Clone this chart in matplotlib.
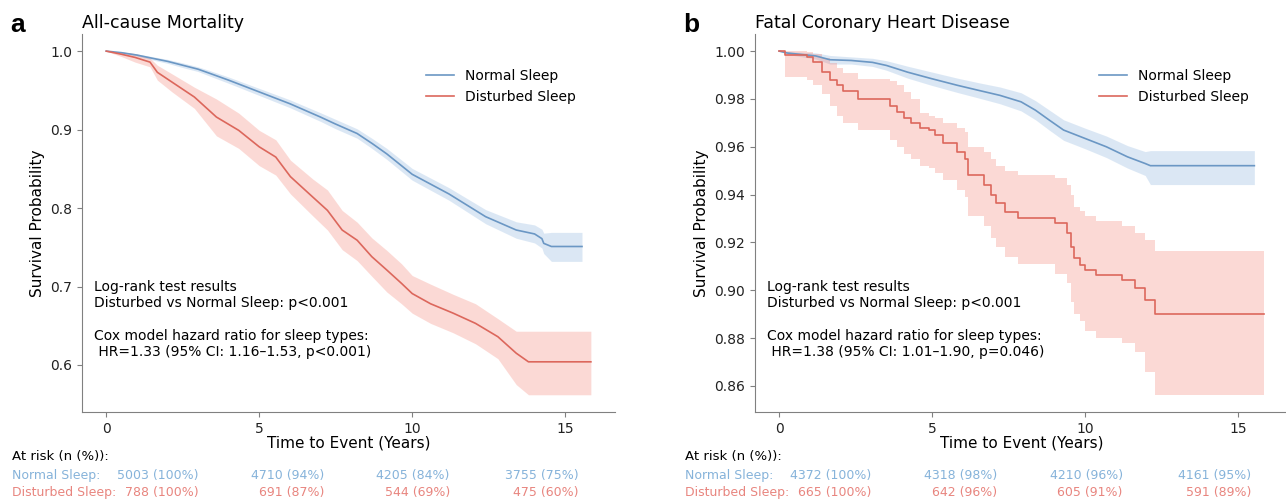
import numpy as np
import matplotlib
matplotlib.use("Agg")
import matplotlib.pyplot as plt

# ---- panel a: all-cause mortality ----
a_norm_t = [0, 0.5, 1.0, 1.43, 2.0, 2.5, 3.0, 3.36, 4.0, 5.0, 6.0, 7.0, 7.47, 8.2, 8.7, 9.17,
            10.0, 11.2, 12.4, 13.4, 14.0, 14.24, 14.3, 14.55, 15.55]
a_norm_s = [1.0, 0.998, 0.995, 0.9915, 0.987, 0.982, 0.977, 0.972, 0.963, 0.948, 0.933, 0.916,
            0.9075, 0.895, 0.882, 0.869, 0.843, 0.818, 0.789, 0.772, 0.767, 0.761, 0.755, 0.751, 0.751]
a_norm_hi = [1.0, 0.999, 0.9965, 0.9935, 0.9895, 0.985, 0.980, 0.9755, 0.967, 0.9525, 0.938, 0.9215,
             0.9135, 0.901, 0.8885, 0.876, 0.8505, 0.826, 0.798, 0.7825, 0.7785, 0.773, 0.768, 0.769, 0.769]
a_norm_lo = [1.0, 0.997, 0.9935, 0.9895, 0.9845, 0.979, 0.974, 0.9685, 0.959, 0.9435, 0.928, 0.9105,
             0.9015, 0.889, 0.8755, 0.862, 0.8355, 0.810, 0.780, 0.7615, 0.7555, 0.749, 0.742, 0.732, 0.732]

a_dist_t = [0, 0.5, 0.94, 1.43, 1.67, 2.15, 2.88, 3.6, 4.33, 5.0, 5.54, 6.02, 6.75, 7.23, 7.71, 8.2,
            8.68, 9.17, 9.65, 10.0, 10.6, 11.34, 12.07, 12.8, 13.4, 13.8, 15.84]
a_dist_s = [1.0, 0.996, 0.992, 0.986, 0.973, 0.9605, 0.9415, 0.916, 0.899, 0.878, 0.865, 0.840, 0.814,
            0.797, 0.772, 0.759, 0.738, 0.721, 0.704, 0.691, 0.678, 0.666, 0.653, 0.636, 0.615, 0.604, 0.604]
a_dist_hi = [1.0, 0.999, 0.997, 0.991, 0.982, 0.971, 0.954, 0.939, 0.921, 0.899, 0.887, 0.861, 0.837,
             0.823, 0.797, 0.782, 0.762, 0.746, 0.729, 0.714, 0.703, 0.690, 0.678, 0.659, 0.643, 0.643, 0.643]
a_dist_lo = [1.0, 0.993, 0.986, 0.980, 0.963, 0.948, 0.927, 0.892, 0.876, 0.854, 0.842, 0.818, 0.790,
             0.772, 0.747, 0.733, 0.713, 0.693, 0.678, 0.666, 0.653, 0.641, 0.627, 0.608, 0.575, 0.562, 0.562]

# ---- panel b: fatal coronary heart disease ----
b_norm_t = [0, 0.27, 1.19, 1.66, 2.35, 3.05, 3.51, 4.2, 4.98, 5.83, 6.52, 7.22, 7.91, 8.38, 8.84, 9.3,
            10.0, 10.7, 11.39, 11.97, 12.14, 15.54]
b_norm_s = [1.0, 0.9992, 0.998, 0.9964, 0.9961, 0.9953, 0.994, 0.9912, 0.9885, 0.9857, 0.9836, 0.9815,
            0.9788, 0.9753, 0.9711, 0.967, 0.9635, 0.96, 0.9558, 0.953, 0.9521, 0.9521]
b_norm_hi = [1.0, 0.9998, 0.9993, 0.9982, 0.9976, 0.997, 0.996, 0.9937, 0.9913, 0.9887, 0.9868, 0.985,
             0.9826, 0.9793, 0.9753, 0.9713, 0.9678, 0.9645, 0.9605, 0.958, 0.9584, 0.9584]
b_norm_lo = [1.0, 0.9986, 0.9967, 0.9946, 0.9946, 0.9936, 0.992, 0.9887, 0.9857, 0.9827, 0.9804, 0.978,
             0.975, 0.9713, 0.9669, 0.9627, 0.9592, 0.9555, 0.9511, 0.948, 0.9442, 0.9442]

b_dist_t = [0, 0.2, 0.9, 1.1, 1.4, 1.66, 1.89, 2.1, 2.58, 3.63, 3.86, 4.09, 4.32, 4.61, 4.9, 5.11, 5.37,
            5.83, 6.08, 6.18, 6.7, 6.93, 7.1, 7.39, 7.8, 9.01, 9.42, 9.54, 9.63, 9.83, 10.0, 10.35,
            11.22, 11.62, 11.97, 12.29, 15.85]
b_dist_s = [1.0, 0.9985, 0.9975, 0.9954, 0.9913, 0.9878, 0.9857, 0.9832, 0.9801, 0.977, 0.9746, 0.9722,
            0.970, 0.968, 0.967, 0.9649, 0.9614, 0.9579, 0.9551, 0.9482, 0.944, 0.9399, 0.9364, 0.9329,
            0.9301, 0.928, 0.9239, 0.9183, 0.9135, 0.9107, 0.9086, 0.9065, 0.9044, 0.901, 0.8961, 0.8899, 0.8899]
b_dist_hi = [1.0, 0.9999, 0.9995, 0.999, 0.997, 0.995, 0.993, 0.991, 0.9885, 0.9875, 0.986, 0.983,
             0.980, 0.974, 0.973, 0.972, 0.970, 0.968, 0.966, 0.960, 0.958, 0.955, 0.952, 0.950,
             0.948, 0.947, 0.944, 0.940, 0.935, 0.933, 0.931, 0.929, 0.927, 0.924, 0.921, 0.9165, 0.9165]
b_dist_lo = [1.0, 0.989, 0.988, 0.986, 0.982, 0.977, 0.973, 0.970, 0.967, 0.963, 0.960, 0.957,
             0.955, 0.952, 0.951, 0.949, 0.946, 0.942, 0.939, 0.931, 0.927, 0.922, 0.918, 0.914,
             0.911, 0.907, 0.903, 0.895, 0.890, 0.887, 0.883, 0.880, 0.878, 0.874, 0.866, 0.8563, 0.8563]

# ---- at-risk table ----
a_risk_norm_n = [5003, 4710, 4205, 3755]
a_risk_norm_pct = [100, 94, 84, 75]
a_risk_dist_n = [788, 691, 544, 475]
a_risk_dist_pct = [100, 87, 69, 60]
b_risk_norm_n = [4372, 4318, 4210, 4161]
b_risk_norm_pct = [100, 98, 96, 95]
b_risk_dist_n = [665, 642, 605, 591]
b_risk_dist_pct = [100, 96, 91, 89]

titles = ["All-cause Mortality", "Fatal Coronary Heart Disease"]
stats_text = [
    "Log-rank test results\nDisturbed vs Normal Sleep: p<0.001\n\n"
    "Cox model hazard ratio for sleep types:\n HR=1.33 (95% CI: 1.16\u20131.53, p<0.001)",
    "Log-rank test results\nDisturbed vs Normal Sleep: p<0.001\n\n"
    "Cox model hazard ratio for sleep types:\n HR=1.38 (95% CI: 1.01\u20131.90, p=0.046)",
]

blue = "#6b97c4"
red = "#dc675c"
blue_fill = "#73a3d7"
red_fill = "#f36a5a"
blue_txt = "#86b3da"
red_txt = "#e8857f"

fig = plt.figure(figsize=(12.86, 5.03), dpi=100)
ax_a = fig.add_axes([0.0638, 0.181, 0.4145, 0.7515])
ax_b = fig.add_axes([0.5871, 0.181, 0.4145, 0.7515])

# panel a
ax_a.fill_between(a_norm_t, a_norm_lo, a_norm_hi, color=blue_fill, alpha=0.25, lw=0)
ax_a.plot(a_norm_t, a_norm_s, color=blue, lw=1.2, label="Normal Sleep")
ax_a.fill_between(a_dist_t, a_dist_lo, a_dist_hi, color=red_fill, alpha=0.25, lw=0)
ax_a.plot(a_dist_t, a_dist_s, color=red, lw=1.2, label="Disturbed Sleep")

# panel b
ax_b.fill_between(b_norm_t, b_norm_lo, b_norm_hi, color=blue_fill, alpha=0.25, lw=0)
ax_b.plot(b_norm_t, b_norm_s, color=blue, lw=1.2, label="Normal Sleep")
ax_b.fill_between(b_dist_t, b_dist_lo, b_dist_hi, step="post", color=red_fill, alpha=0.25, lw=0)
ax_b.plot(b_dist_t, b_dist_s, color=red, lw=1.2, drawstyle="steps-post", label="Disturbed Sleep")

ax_a.set_yticks([0.6, 0.7, 0.8, 0.9, 1.0])
ax_b.set_yticks([0.86, 0.88, 0.90, 0.92, 0.94, 0.96, 0.98, 1.00])

risk_x = [0.218, 0.454, 0.690, 0.931]
panels = [
    (ax_a, "a", a_risk_norm_n, a_risk_norm_pct, a_risk_dist_n, a_risk_dist_pct),
    (ax_b, "b", b_risk_norm_n, b_risk_norm_pct, b_risk_dist_n, b_risk_dist_pct),
]
for i, (ax, letter, nn, np_, dn, dp) in enumerate(panels):
    ax.set_xticks([0, 5, 10, 15])
    ax.spines["top"].set_visible(False)
    ax.spines["right"].set_visible(False)
    for s in ["left", "bottom"]:
        ax.spines[s].set_color("#808080")
    ax.tick_params(labelsize=10, colors="#222222", length=3.5)
    ax.tick_params(axis="both", color="#808080")
    ax.set_xlabel("Time to Event (Years)", fontsize=11, labelpad=0)
    ax.set_ylabel("Survival Probability", fontsize=11)
    ax.set_title(titles[i], loc="left", fontsize=12.5, pad=4.5)
    ax.legend(loc="upper right", bbox_to_anchor=(0.95, 0.94), frameon=False, fontsize=10,
              handlelength=2.0)
    ax.text(0.022, 0.14, stats_text[i], transform=ax.transAxes, fontsize=10,
            va="bottom", ha="left", linespacing=1.2)

    # panel letter
    x0 = ax.get_position().x0
    fig.text(x0 - 72 / 1286, 1 - 32 / 503, letter, fontsize=19, fontweight="bold",
             family="Liberation Sans", va="baseline", ha="left")

    # at-risk table below the axis
    ax.text(-0.131, -0.119, "At risk (n (%)):", transform=ax.transAxes, fontsize=9.5,
            va="center", ha="left", clip_on=False)
    ax.text(-0.131, -0.167, "Normal Sleep:", transform=ax.transAxes, fontsize=9,
            color=blue_txt, va="center", ha="left", clip_on=False)
    ax.text(-0.131, -0.212, "Disturbed Sleep:", transform=ax.transAxes, fontsize=9,
            color=red_txt, va="center", ha="left", clip_on=False)
    for j in range(4):
        ax.text(risk_x[j], -0.167, f"{nn[j]} ({np_[j]}%)", transform=ax.transAxes,
                fontsize=9, color=blue_txt, va="center", ha="right", clip_on=False)
        ax.text(risk_x[j], -0.212, f"{dn[j]} ({dp[j]}%)", transform=ax.transAxes,
                fontsize=9, color=red_txt, va="center", ha="right", clip_on=False)

fig.savefig("out.png", dpi=100)
